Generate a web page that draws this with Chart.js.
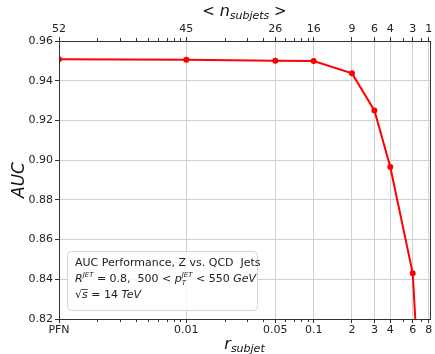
<!DOCTYPE html>
<html>
<head>
<meta charset="utf-8">
<script src="https://cdn.jsdelivr.net/npm/chart.js@4"></script>
<style>
  html, body { margin: 0; padding: 0; background: #fff; }
  #wrap { width: 435px; height: 354px; }
</style>
</head>
<body>
<div id="wrap"><canvas id="auc"></canvas></div>
<script>
// r_subjet values (PFN drawn at 0.001), AUC, top axis labels
const rSubjet = [0.001, 0.01, 0.05, 0.1, 0.2, 0.3, 0.4, 0.6, 0.8]
const rLabels = ['PFN', '0.01', '0.05', '0.1', '2', '3', '4', '6', '8']
const nSubjets = ['52', '45', '26', '16', '9', '6', '4', '3', '1']
const auc = [0.9508, 0.9505, 0.9501, 0.9499, 0.9437, 0.925, 0.8965, 0.843, 0.70]
const minorTicks = [0.002, 0.003, 0.004, 0.005, 0.006, 0.007, 0.008, 0.009,
    0.02, 0.03, 0.04, 0.06, 0.07, 0.08, 0.09, 0.5, 0.7]

const font = 'DejaVu Sans'
const gridGray = 'rgb(208,208,208)'
const spine = '#333'

// draws pieces of text with their own font and vertical offset
function drawRich(ctx, x, y, parts, align) {
    let total = 0
    parts.forEach((p) => {
        ctx.font = p.font
        total += ctx.measureText(p.t).width
    })
    let cx = align === 'center' ? x - total / 2 : x
    parts.forEach((p) => {
        ctx.font = p.font
        const w = ctx.measureText(p.t).width
        ctx.fillText(p.t, cx, y + (p.dy || 0))
        if (p.over) ctx.fillRect(cx, y - 9, w, 0.8)
        if (p.sub) {
            ctx.fillText(p.sub, cx, y + 3)
        }
        cx += w
    })
}

const decor = {
    id: 'decor',
    afterDatasetsDraw(chart) {
        const { ctx, chartArea: a } = chart
        const xs = chart.scales.x
        ctx.save()
        // frame
        ctx.strokeStyle = spine
        ctx.lineWidth = 1
        ctx.strokeRect(a.left + 0.5, a.top + 0.5, a.right - a.left, a.bottom - a.top)
        // minor ticks
        ctx.beginPath()
        minorTicks.forEach((v) => {
            const px = Math.round(xs.getPixelForValue(v)) + 0.5
            ctx.moveTo(px, a.bottom)
            ctx.lineTo(px, a.bottom + 3)
            ctx.moveTo(px, a.top)
            ctx.lineTo(px, a.top - 3)
        })
        ctx.stroke()

        // legend box
        const bx = 67, by = 251, bw = 190, bh = 59
        ctx.fillStyle = 'rgba(255,255,255,0.85)'
        ctx.strokeStyle = '#d4d4d4'
        ctx.beginPath()
        ctx.roundRect(bx + 0.5, by + 0.5, bw, bh, 4)
        ctx.fill()
        ctx.stroke()

        ctx.fillStyle = '#222'
        ctx.textBaseline = 'alphabetic'
        const reg = '11px ' + font
        const it = 'italic 11px ' + font
        const sm = 'italic 7px ' + font
        drawRich(ctx, 75, 266, [{ t: 'AUC Performance, Z vs. QCD  Jets', font: reg }], 'left')
        drawRich(ctx, 75, 282, [
            { t: 'R', font: it },
            { t: 'JET', font: sm, dy: -5 },
            { t: ' = 0.8,  500 < ', font: reg },
            { t: 'p', font: it },
            { t: 'JET', font: sm, dy: -5, sub: 'T' },
            { t: ' < 550 ', font: reg },
            { t: 'GeV', font: it },
        ], 'left')
        drawRich(ctx, 75, 298, [
            { t: '\u221A', font: reg },
            { t: 's', font: it, over: true },
            { t: ' = 14 ', font: reg },
            { t: 'TeV', font: it },
        ], 'left')

        // axis titles
        ctx.fillStyle = '#111'
        const cx = (a.left + a.right) / 2
        drawRich(ctx, cx, 349, [
            { t: 'r', font: 'italic 16px ' + font },
            { t: 'subjet', font: 'italic 11px ' + font, dy: 3 },
        ], 'center')
        drawRich(ctx, cx, 16, [
            { t: '< ', font: '15px ' + font },
            { t: 'n', font: 'italic 16px ' + font },
            { t: 'subjets', font: 'italic 11px ' + font, dy: 3 },
            { t: ' >', font: '15px ' + font },
        ], 'center')
        ctx.translate(24, (a.top + a.bottom) / 2)
        ctx.rotate(-Math.PI / 2)
        ctx.font = 'italic 17px ' + font
        ctx.textAlign = 'center'
        ctx.fillText('AUC', 0, 0)
        ctx.restore()
    },
}

const setTicks = (scale) => {
    scale.ticks = rSubjet.map((v) => ({ value: v }))
}

new Chart(document.getElementById('auc'), {
    type: 'line',
    data: {
        datasets: [
            {
                data: rSubjet.map((r, i) => ({ x: r, y: auc[i] })),
                borderColor: 'rgb(255,0,0)',
                backgroundColor: 'rgb(255,0,0)',
                borderWidth: 2,
                pointRadius: 2,
                pointHoverRadius: 2,
                tension: 0,
            },
        ],
    },
    options: {
        responsive: true,
        maintainAspectRatio: false,
        animation: false,
        layout: { padding: { left: 0, right: 5, top: 0, bottom: 0 } },
        plugins: { legend: { display: false }, tooltip: { enabled: false } },
        scales: {
            x: {
                type: 'logarithmic',
                position: 'bottom',
                min: 0.001,
                max: 0.82,
                afterBuildTicks: setTicks,
                afterFit: (s) => { s.height = 35 },
                grid: { color: gridGray, tickColor: spine, tickLength: 4 },
                border: { color: spine },
                ticks: {
                    autoSkip: false,
                    maxRotation: 0,
                    padding: 1,
                    color: '#222',
                    font: { family: font, size: 11 },
                    callback: (v, i) => rLabels[i],
                },
            },
            x2: {
                type: 'logarithmic',
                position: 'top',
                min: 0.001,
                max: 0.82,
                afterBuildTicks: setTicks,
                afterFit: (s) => { s.height = 41 },
                grid: { drawOnChartArea: false, tickColor: spine, tickLength: 4 },
                border: { color: spine },
                ticks: {
                    autoSkip: false,
                    maxRotation: 0,
                    padding: 1,
                    color: '#222',
                    font: { family: font, size: 11 },
                    callback: (v, i) => nSubjets[i],
                },
            },
            y: {
                min: 0.82,
                max: 0.96,
                afterFit: (s) => { s.width = 59 },
                grid: { color: gridGray, tickColor: spine, tickLength: 4 },
                border: { color: spine },
                ticks: {
                    stepSize: 0.02,
                    padding: 2,
                    color: '#222',
                    font: { family: font, size: 11 },
                    callback: (v) => v.toFixed(2),
                },
            },
        },
    },
    plugins: [decor],
})
</script>
</body>
</html>
